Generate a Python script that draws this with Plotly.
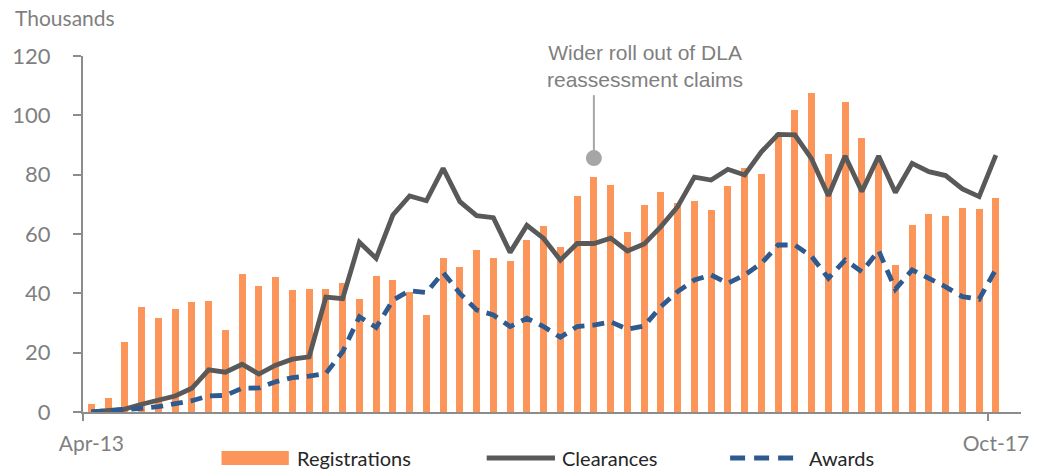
import plotly.graph_objects as go

months = ["Apr-13","May-13","Jun-13","Jul-13","Aug-13","Sep-13","Oct-13","Nov-13","Dec-13",
          "Jan-14","Feb-14","Mar-14","Apr-14","May-14","Jun-14","Jul-14","Aug-14","Sep-14","Oct-14","Nov-14","Dec-14",
          "Jan-15","Feb-15","Mar-15","Apr-15","May-15","Jun-15","Jul-15","Aug-15","Sep-15","Oct-15","Nov-15","Dec-15",
          "Jan-16","Feb-16","Mar-16","Apr-16","May-16","Jun-16","Jul-16","Aug-16","Sep-16","Oct-16","Nov-16","Dec-16",
          "Jan-17","Feb-17","Mar-17","Apr-17","May-17","Jun-17","Jul-17","Aug-17","Sep-17","Oct-17"]

registrations = [2.7, 4.6, 23.5, 35.5, 31.6, 34.8, 37.1, 37.4, 27.5, 46.6, 42.6, 45.5, 41.0, 41.5, 41.5, 43.6, 38.1, 45.7,
                 44.4, 40.4, 32.7, 51.8, 49.0, 54.5, 52.0, 50.9, 58.0, 62.7, 55.7, 72.8, 79.3, 76.6, 60.6, 69.8, 74.3,
                 70.3, 71.2, 68.1, 76.3, 82.1, 80.2, 93.9, 101.8, 107.6, 87.0, 104.5, 92.5, 84.5, 49.4, 63.0, 66.7,
                 66.1, 68.6, 68.3, 72.1]

clearances = [0.0, 0.5, 1.0, 2.6, 4.0, 5.4, 8.0, 14.2, 13.4, 16.1, 12.8, 15.8, 17.8, 18.6, 38.7, 38.2, 57.2, 51.8,
              66.4, 72.8, 71.2, 82.1, 70.9, 66.2, 65.5, 53.8, 62.9, 58.5, 51.2, 56.8, 56.8, 58.6, 54.3, 56.6, 62.5,
              69.2, 79.2, 78.2, 81.8, 79.9, 87.7, 93.6, 93.4, 85.3, 72.9, 86.3, 74.3, 86.3, 74.0, 83.8, 81.0,
              79.7, 75.2, 72.6, 86.6]

awards = [0.0, 0.3, 0.5, 1.2, 1.8, 2.6, 3.8, 5.4, 5.6, 8.0, 8.1, 10.2, 11.6, 12.1, 13.0, 20.3, 32.1, 28.5,
          37.7, 40.9, 40.3, 47.0, 40.0, 34.4, 32.7, 28.8, 31.6, 28.8, 25.2, 28.8, 29.3, 30.4, 27.9, 29.0, 35.5,
          40.6, 44.5, 46.2, 43.4, 46.2, 50.1, 56.3, 56.3, 52.4, 45.1, 51.2, 47.3, 54.4, 41.4, 47.9, 45.1,
          42.2, 38.9, 38.0, 48.1]

y_ticks = [0, 20, 40, 60, 80, 100, 120]
x_tick_labels = ["Apr-13", "Oct-17"]

callout_month = "Oct-15"
callout_value = 85.6
callout_line_top = 106.8
callout_text = "Wider roll out of DLA<br>reassessment claims"

x = list(range(len(months)))
ci = months.index(callout_month)

ORANGE = "#FB955A"
GRAY = "#595959"
BLUE = "#2F5A8F"
AXIS = "#8C8C8C"
TXT = "#7F7F7F"

W, H = 1041, 471
ML, MR, MT, MB = 80, 13, 56, 59
PW, PH = W - ML - MR, H - MT - MB

def paper_x(px):
    return (px - ML) / PW

def paper_y(py):
    return (H - MB - py) / PH

fig = go.Figure()
fig.add_trace(go.Bar(x=x, y=registrations, width=0.42, marker=dict(color=ORANGE, line=dict(width=0)),
                     name="Registrations", hoverinfo="y"))
fig.add_trace(go.Scatter(x=x, y=clearances, mode="lines", line=dict(color=GRAY, width=4.8),
                         name="Clearances"))
fig.add_trace(go.Scatter(x=x, y=awards, mode="lines", line=dict(color=BLUE, width=4.8, dash="12px,8px"),
                         name="Awards"))
# callout
fig.add_shape(type="line", x0=ci, x1=ci, y0=callout_value, y1=callout_line_top,
              line=dict(color="#A6A6A6", width=2), layer="above")
fig.add_trace(go.Scatter(x=[ci], y=[callout_value], mode="markers",
                         marker=dict(color="#A6A6A6", size=16), showlegend=False, hoverinfo="skip"))
fig.add_annotation(x=paper_x(648), y=paper_y(66), xref="paper", yref="paper", text=callout_text, showarrow=False,
                   font=dict(family="Liberation Sans, Arial", size=21, color=TXT), align="center",
                   xanchor="center", yanchor="middle")

fig.add_annotation(x=paper_x(9), y=paper_y(17), xref="paper", yref="paper", xanchor="left", yanchor="middle",
                   text="Thousands", showarrow=False,
                   font=dict(family="Lato, Open Sans, sans-serif", size=21, color=TXT))

# custom legend
legend_font = dict(family="Lato, Open Sans, sans-serif", size=20, color="#262626")
lg_y = paper_y(458)
fig.add_shape(type="rect", xref="paper", yref="paper", x0=paper_x(220), x1=paper_x(288),
              y0=paper_y(465), y1=paper_y(451), fillcolor=ORANGE, line=dict(width=0))
fig.add_annotation(xref="paper", yref="paper", x=paper_x(294), y=lg_y, xanchor="left", yanchor="middle",
                   text="Registrations", showarrow=False, font=legend_font)
fig.add_shape(type="line", xref="paper", yref="paper", x0=paper_x(488), x1=paper_x(557),
              y0=lg_y, y1=lg_y, line=dict(color=GRAY, width=5))
fig.add_annotation(xref="paper", yref="paper", x=paper_x(562), y=lg_y, xanchor="left", yanchor="middle",
                   text="Clearances", showarrow=False, font=legend_font)
fig.add_shape(type="line", xref="paper", yref="paper", x0=paper_x(734), x1=paper_x(800),
              y0=lg_y, y1=lg_y, line=dict(color=BLUE, width=5, dash="15px,9px"))
fig.add_annotation(xref="paper", yref="paper", x=paper_x(812), y=lg_y, xanchor="left", yanchor="middle",
                   text="Awards", showarrow=False, font=legend_font)

fig.update_layout(
    width=W, height=H,
    margin=dict(l=ML, r=MR, t=MT, b=MB),
    paper_bgcolor="white", plot_bgcolor="white",
    showlegend=False,
    bargap=0,
    xaxis=dict(range=[-0.5, 55.5], tickmode="array", tickvals=[0, len(months) - 1], ticktext=x_tick_labels,
               ticks="", showgrid=False, zeroline=False, showline=True, linecolor=AXIS, linewidth=2,
               tickfont=dict(family="Lato, Open Sans, sans-serif", size=21, color=TXT),
               ticklabelstandoff=12,
               minor=dict(tickmode="array", tickvals=[-0.5, len(months) - 1.5], ticks="outside",
                          ticklen=7, tickcolor=AXIS, tickwidth=2, showgrid=False)),
    yaxis=dict(range=[0, 120], tickmode="array", tickvals=y_ticks, ticks="outside", ticklen=8,
               tickcolor=AXIS, tickwidth=2, showgrid=False, zeroline=False, showline=True,
               linecolor=AXIS, linewidth=2,
               tickfont=dict(family="Lato, Open Sans, sans-serif", size=22, color=TXT),
               ticklabelstandoff=18),
)

fig.write_html("out.html", config={"displayModeBar": False},
               post_script="document.body.style.margin='0';document.body.style.overflow='hidden';")
